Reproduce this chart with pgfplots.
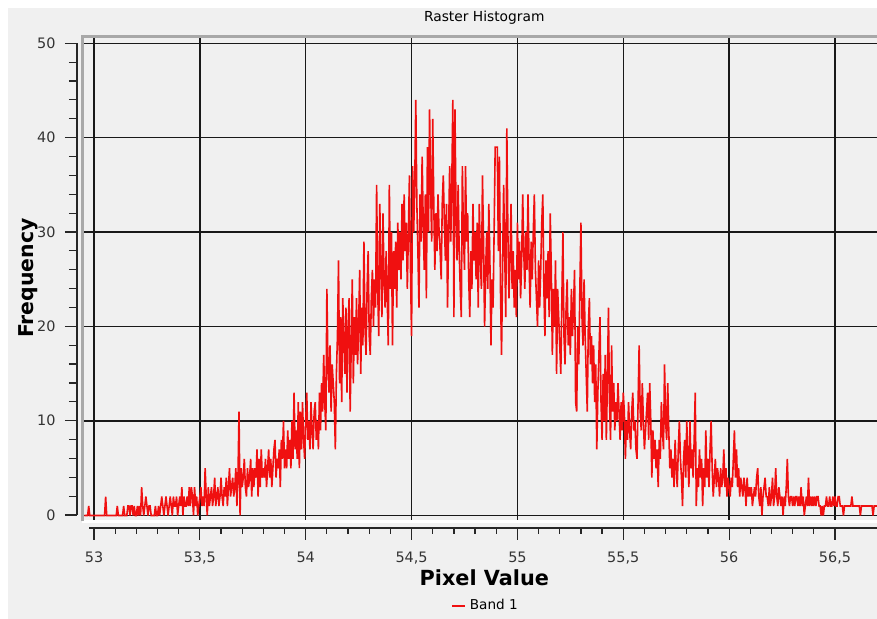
\documentclass[border=0pt]{standalone}
\usepackage{pgfplots}
\pgfplotsset{compat=1.18}
\usepackage{fontspec}
\setmainfont{DejaVu Sans}
\definecolor{bgc}{HTML}{F0F0F0}
\definecolor{framegray}{HTML}{A8A8A8}
\definecolor{bandred}{HTML}{F01010}
\begin{document}
\begin{tikzpicture}
\fill[white] (0,0) rectangle (438.5pt,309.5pt);
\fill[bgc] (4pt,0) rectangle (438.5pt,305.5pt);
\path[use as bounding box] (0,0) rectangle (438.5pt,309.5pt);
% main canvas with grid and data
\begin{axis}[
  at={(41pt,48.75pt)}, anchor=south west,
  scale only axis, width=397.5pt, height=242.5pt,
  xmin=52.9433, xmax=56.6986, ymin=-0.64, ymax=50.72,
  xtick={53,53.5,54,54.5,55,55.5,56,56.5}, ytick={0,10,20,30,40,50},
  xticklabels={}, yticklabels={},
  major tick length=0pt,
  grid=major, major grid style={draw=black!90, line width=0.75pt},
  axis line style={draw=none},
  title={Raster Histogram},
  title style={at={(axis description cs:0.506,1.013)}, anchor=center, font=\fontsize{6.9pt}{8pt}\selectfont},
  xlabel={Pixel Value},
  xlabel style={at={(axis description cs:0.506,-0.1165)}, anchor=center, font=\bfseries\fontsize{10.4pt}{12pt}\selectfont},
  ylabel={Frequency},
  ylabel style={at={(axis description cs:-0.068,0.502)}, anchor=center, font=\bfseries\fontsize{10.2pt}{12pt}\selectfont},
  legend style={at={(axis description cs:0.509,-0.174)}, anchor=center, draw=none, fill=none, font=\fontsize{6.8pt}{8pt}\selectfont},
  legend image code/.code={\draw[bandred, line width=0.7pt] (0pt,0pt) -- (6.5pt,0pt);},
  after end axis/.code={
    \draw[white, line width=1.2pt] (rel axis cs:0,0) -- (rel axis cs:1,0);
    \draw[framegray, line width=1.5pt] (rel axis cs:0,0) -- (rel axis cs:0,1) -- (rel axis cs:1,1);
  },
]
\addplot[color=bandred, line width=0.8pt, line join=miter, miter limit=2] coordinates {
(52.955,0)(52.960,0)(52.965,0)(52.970,0)(52.975,1)(52.980,0)(52.985,0)(52.990,0)(52.995,0)(53.000,0)
(53.005,0)(53.010,0)(53.015,0)(53.020,0)(53.025,0)(53.030,0)(53.035,0)(53.040,0)(53.045,0)(53.050,0)
(53.055,2)(53.060,0)(53.065,0)(53.070,0)(53.075,0)(53.080,0)(53.085,0)(53.090,0)(53.095,0)(53.100,0)
(53.105,0)(53.110,1)(53.115,0)(53.120,0)(53.125,0)(53.130,0)(53.135,0)(53.140,1)(53.145,0)(53.150,0)
(53.155,0)(53.160,1)(53.165,1)(53.170,0)(53.175,1)(53.180,1)(53.185,0)(53.190,1)(53.195,0)(53.200,0)
(53.205,1)(53.210,0)(53.215,1)(53.220,0)(53.225,3)(53.230,1)(53.235,0)(53.240,1)(53.245,2)(53.250,1)
(53.255,0)(53.260,1)(53.265,1)(53.270,0)(53.275,0)(53.280,0)(53.285,0)(53.290,1)(53.295,0)(53.300,0)
(53.305,1)(53.310,0)(53.315,1)(53.320,2)(53.325,1)(53.330,0)(53.335,1)(53.340,2)(53.345,1)(53.350,0)
(53.355,1)(53.360,2)(53.365,1)(53.370,0)(53.375,2)(53.380,1)(53.385,1)(53.390,2)(53.395,0)(53.400,1)
(53.405,2)(53.410,1)(53.415,3)(53.420,0)(53.425,2)(53.430,1)(53.435,1)(53.440,2)(53.445,1)(53.450,3)
(53.455,1)(53.460,3)(53.465,2)(53.470,0)(53.475,3)(53.480,1)(53.485,2)(53.490,0)(53.495,1)(53.500,2)
(53.505,3)(53.510,1)(53.515,2)(53.520,1)(53.525,5)(53.530,2)(53.535,0)(53.540,3)(53.545,1)(53.550,2)
(53.555,3)(53.560,1)(53.565,2)(53.570,4)(53.575,1)(53.580,2)(53.585,3)(53.590,1)(53.595,2)(53.600,4)
(53.605,2)(53.610,1)(53.615,3)(53.620,2)(53.625,4)(53.630,1)(53.635,3)(53.640,5)(53.645,2)(53.650,3)
(53.655,4)(53.660,2)(53.665,3)(53.670,5)(53.675,1)(53.680,4)(53.685,11)(53.690,0)(53.695,5)(53.700,3)
(53.705,4)(53.710,6)(53.715,3)(53.720,2)(53.725,5)(53.730,3)(53.735,4)(53.740,6)(53.745,2)(53.750,5)
(53.755,3)(53.760,5)(53.765,4)(53.770,7)(53.775,2)(53.780,6)(53.785,3)(53.790,7)(53.795,4)(53.800,5)
(53.805,4)(53.810,6)(53.815,3)(53.820,5)(53.825,7)(53.830,4)(53.835,6)(53.840,3)(53.845,5)(53.850,7)
(53.855,8)(53.860,4)(53.865,6)(53.870,5)(53.875,7)(53.880,3)(53.885,8)(53.890,6)(53.895,10)(53.900,5)
(53.905,7)(53.910,5)(53.915,9)(53.920,6)(53.925,8)(53.930,5)(53.935,10)(53.940,6)(53.945,13)(53.950,7)
(53.955,9)(53.960,6)(53.965,12)(53.970,5)(53.975,11)(53.980,7)(53.985,12)(53.990,8)(53.995,6)(54.000,10)
(54.005,13)(54.010,8)(54.015,10)(54.020,7)(54.025,12)(54.030,9)(54.035,7)(54.040,11)(54.045,12)(54.050,8)
(54.055,10)(54.060,7)(54.065,13)(54.070,9)(54.075,14)(54.080,11)(54.085,17)(54.090,12)(54.095,9)(54.100,24)
(54.105,16)(54.110,13)(54.115,18)(54.120,11)(54.125,16)(54.130,14)(54.135,12)(54.140,7)(54.145,15)(54.150,19)
(54.155,27)(54.160,14)(54.165,21)(54.170,12)(54.175,23)(54.180,19)(54.185,15)(54.190,22)(54.195,13)(54.200,20)
(54.205,23)(54.210,11)(54.215,18)(54.220,25)(54.225,14)(54.230,21)(54.235,17)(54.240,23)(54.245,16)(54.250,20)
(54.255,26)(54.260,15)(54.265,22)(54.270,18)(54.275,29)(54.280,20)(54.285,17)(54.290,24)(54.295,28)(54.300,19)
(54.305,17)(54.310,23)(54.315,26)(54.320,20)(54.325,25)(54.330,22)(54.335,35)(54.340,24)(54.345,19)(54.350,33)
(54.355,26)(54.360,21)(54.365,32)(54.370,25)(54.375,22)(54.380,28)(54.385,23)(54.390,18)(54.395,35)(54.400,24)
(54.405,30)(54.410,18)(54.415,28)(54.420,24)(54.425,29)(54.430,22)(54.435,31)(54.440,26)(54.445,30)(54.450,25)
(54.455,33)(54.460,27)(54.465,34)(54.470,28)(54.475,31)(54.480,24)(54.485,30)(54.490,36)(54.495,26)(54.500,19)
(54.505,37)(54.510,30)(54.515,35)(54.520,44)(54.525,33)(54.530,28)(54.535,22)(54.540,34)(54.545,29)(54.550,38)
(54.555,31)(54.560,26)(54.565,34)(54.570,23)(54.575,39)(54.580,30)(54.585,43)(54.590,35)(54.595,29)(54.600,42)
(54.605,33)(54.610,26)(54.615,32)(54.620,28)(54.625,34)(54.630,30)(54.635,28)(54.640,25)(54.645,33)(54.650,36)
(54.655,31)(54.660,27)(54.665,33)(54.670,22)(54.675,30)(54.680,37)(54.685,29)(54.690,35)(54.695,44)(54.700,21)
(54.705,43)(54.710,32)(54.715,27)(54.720,35)(54.725,28)(54.730,24)(54.735,21)(54.740,37)(54.745,30)(54.750,26)
(54.755,37)(54.760,29)(54.765,32)(54.770,25)(54.775,21)(54.780,28)(54.785,24)(54.790,33)(54.795,27)(54.800,30)
(54.805,25)(54.810,31)(54.815,22)(54.820,33)(54.825,27)(54.830,24)(54.835,36)(54.840,29)(54.845,20)(54.850,26)
(54.855,30)(54.860,24)(54.865,33)(54.870,27)(54.875,18)(54.880,25)(54.885,22)(54.890,30)(54.895,39)(54.900,39)
(54.905,39)(54.910,28)(54.915,38)(54.920,24)(54.925,17)(54.930,26)(54.935,35)(54.940,28)(54.945,21)(54.950,41)
(54.955,30)(54.960,23)(54.965,27)(54.970,33)(54.975,24)(54.980,28)(54.985,22)(54.990,26)(54.995,21)(55.000,31)
(55.005,25)(55.010,29)(55.015,23)(55.020,27)(55.025,34)(55.030,28)(55.035,24)(55.040,30)(55.045,26)(55.050,34)
(55.055,27)(55.060,22)(55.065,29)(55.070,25)(55.075,30)(55.080,34)(55.085,26)(55.090,23)(55.095,20)(55.100,27)
(55.105,22)(55.110,26)(55.115,31)(55.120,34)(55.125,24)(55.130,19)(55.135,27)(55.140,23)(55.145,28)(55.150,21)
(55.155,32)(55.160,26)(55.165,17)(55.170,24)(55.175,20)(55.180,27)(55.185,15)(55.190,24)(55.195,21)(55.200,18)
(55.205,15)(55.210,23)(55.215,30)(55.220,19)(55.225,16)(55.230,22)(55.235,25)(55.240,18)(55.245,21)(55.250,17)
(55.255,24)(55.260,19)(55.265,22)(55.270,26)(55.275,12)(55.280,11)(55.285,20)(55.290,16)(55.295,24)(55.300,31)
(55.305,21)(55.310,18)(55.315,25)(55.320,19)(55.325,15)(55.330,11)(55.335,20)(55.340,23)(55.345,16)(55.350,19)
(55.355,14)(55.360,18)(55.365,12)(55.370,16)(55.375,7)(55.380,13)(55.385,17)(55.390,21)(55.395,12)(55.400,8)
(55.405,15)(55.410,10)(55.415,17)(55.420,8)(55.425,14)(55.430,22)(55.435,12)(55.440,8)(55.445,18)(55.450,11)
(55.455,14)(55.460,9)(55.465,12)(55.470,10)(55.475,14)(55.480,11)(55.485,8)(55.490,12)(55.495,9)(55.500,13)
(55.505,11)(55.510,6)(55.515,10)(55.520,8)(55.525,12)(55.530,9)(55.535,7)(55.540,11)(55.545,13)(55.550,9)
(55.555,10)(55.560,7)(55.565,6)(55.570,12)(55.575,18)(55.580,11)(55.585,9)(55.590,14)(55.595,10)(55.600,7)
(55.605,9)(55.610,11)(55.615,13)(55.620,8)(55.625,14)(55.630,10)(55.635,4)(55.640,9)(55.645,6)(55.650,8)
(55.655,5)(55.660,7)(55.665,3)(55.670,8)(55.675,6)(55.680,12)(55.685,9)(55.690,7)(55.695,16)(55.700,10)
(55.705,8)(55.710,14)(55.715,9)(55.720,5)(55.725,7)(55.730,4)(55.735,6)(55.740,3)(55.745,8)(55.750,5)
(55.755,3)(55.760,7)(55.765,10)(55.770,6)(55.775,4)(55.780,1)(55.785,6)(55.790,8)(55.795,4)(55.800,10)
(55.805,6)(55.810,3)(55.815,10)(55.820,5)(55.825,7)(55.830,4)(55.835,8)(55.840,13)(55.845,1)(55.850,5)
(55.855,3)(55.860,7)(55.865,4)(55.870,6)(55.875,1)(55.880,5)(55.885,3)(55.890,9)(55.895,4)(55.900,6)
(55.905,3)(55.910,7)(55.915,10)(55.920,5)(55.925,2)(55.930,4)(55.935,6)(55.940,3)(55.945,5)(55.950,4)
(55.955,2)(55.960,5)(55.965,3)(55.970,4)(55.975,7)(55.980,3)(55.985,5)(55.990,2)(55.995,4)(56.000,3)
(56.005,2)(56.010,4)(56.015,3)(56.020,6)(56.025,9)(56.030,4)(56.035,7)(56.040,3)(56.045,5)(56.050,2)
(56.055,4)(56.060,3)(56.065,2)(56.070,4)(56.075,3)(56.080,1)(56.085,4)(56.090,2)(56.095,3)(56.100,2)
(56.105,3)(56.110,1)(56.115,2)(56.120,3)(56.125,2)(56.130,4)(56.135,5)(56.140,2)(56.145,1)(56.150,3)
(56.155,0)(56.160,2)(56.165,3)(56.170,4)(56.175,2)(56.180,2)(56.185,1)(56.190,3)(56.195,1)(56.200,2)
(56.205,4)(56.210,1)(56.215,2)(56.220,5)(56.225,2)(56.230,1)(56.235,3)(56.240,2)(56.245,1)(56.250,2)
(56.255,0)(56.260,2)(56.265,1)(56.270,3)(56.275,6)(56.280,2)(56.285,1)(56.290,2)(56.295,2)(56.300,1)
(56.305,2)(56.310,1)(56.315,2)(56.320,2)(56.325,1)(56.330,2)(56.335,1)(56.340,3)(56.345,1)(56.350,2)
(56.355,0)(56.360,1)(56.365,2)(56.370,1)(56.375,4)(56.380,1)(56.385,2)(56.390,1)(56.395,2)(56.400,1)
(56.405,2)(56.410,1)(56.415,2)(56.420,2)(56.425,1)(56.430,1)(56.435,0)(56.440,1)(56.445,0)(56.450,1)
(56.455,1)(56.460,2)(56.465,1)(56.470,1)(56.475,2)(56.480,1)(56.485,1)(56.490,2)(56.495,1)(56.500,2)
(56.505,1)(56.510,1)(56.515,2)(56.520,2)(56.525,1)(56.530,1)(56.535,1)(56.540,0)(56.545,1)(56.550,1)
(56.555,1)(56.560,1)(56.565,1)(56.570,1)(56.575,1)(56.580,2)(56.585,1)(56.590,1)(56.595,1)(56.600,1)
(56.605,1)(56.610,1)(56.615,1)(56.620,0)(56.625,1)(56.630,1)(56.635,1)(56.640,1)(56.645,1)(56.650,1)
(56.655,1)(56.660,1)(56.665,1)(56.670,1)(56.675,1)(56.680,0)(56.685,1)(56.690,1)(56.695,1)(56.700,1)
};
\addlegendentry{Band 1}
\end{axis}
% y axis with ticks
\begin{axis}[
  at={(38.5pt,52pt)}, anchor=south west,
  scale only axis, width=5pt, height=235.85pt,
  xmin=0, xmax=1, ymin=0, ymax=50,
  hide x axis, axis y line*=left,
  ytick={0,10,20,30,40,50}, minor y tick num=4,
  tick align=outside, major tick length=6pt, minor tick length=4pt,
  every tick/.style={black!85, line width=0.6pt},
  axis line style={black!85, line width=0.6pt},
  yticklabel style={font=\fontsize{7.2pt}{8pt}\selectfont, text=black!80, xshift=-1.2pt},
  /pgf/number format/assume math mode=true,
]
\end{axis}
% x axis with ticks
\begin{axis}[
  at={(41pt,45.5pt)}, anchor=south west,
  scale only axis, width=397.5pt, height=5pt,
  xmin=52.9433, xmax=56.6986, ymin=0, ymax=1,
  hide y axis, axis x line*=bottom,
  xtick={53,53.5,54,54.5,55,55.5,56,56.5}, minor x tick num=4,
  tick align=outside, major tick length=6pt, minor tick length=3pt,
  every tick/.style={black!85, line width=0.6pt},
  axis line style={black!85, line width=0.6pt, shorten <=3.5pt},
  xticklabel style={font=\fontsize{7.2pt}{8pt}\selectfont, text=black!80, yshift=-2.5pt},
  /pgf/number format/.cd, use comma, assume math mode=true, 1000 sep={},
]
\end{axis}
\end{tikzpicture}
\end{document}
